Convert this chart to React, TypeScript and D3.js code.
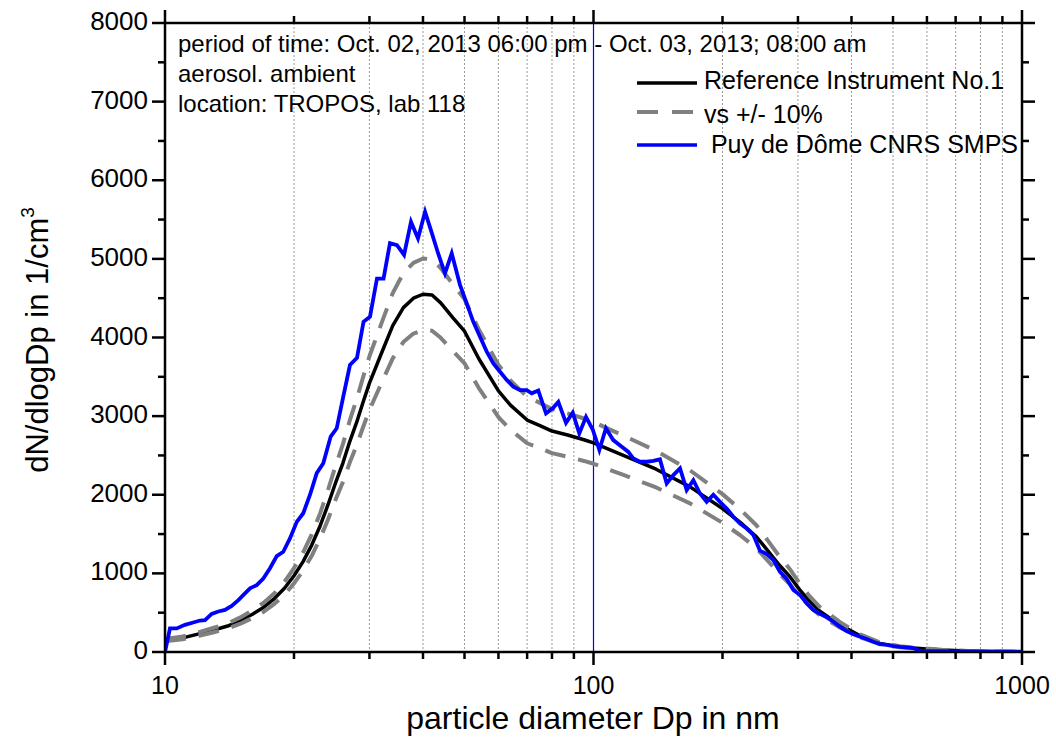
import React from "react";
import * as d3 from "d3";

// Reference instrument (black) – diameters in nm, dN/dlogDp in 1/cm3
const refD = [10, 11, 12, 13, 14, 15, 16, 17, 18, 19, 20, 21, 22, 23, 24, 25, 26, 27, 28, 29, 30, 32, 34, 36, 38, 40, 42, 44, 47, 50, 54, 60, 64, 70, 75, 80, 87, 95, 100, 117, 140, 168, 200, 220, 240, 255, 272, 287, 303, 320, 338, 376, 419, 466, 519, 578, 650, 750, 850, 1000];
const refN = [150, 180, 230, 280, 330, 400, 480, 570, 680, 810, 970, 1150, 1360, 1600, 1870, 2150, 2400, 2680, 2920, 3180, 3420, 3800, 4150, 4380, 4500, 4550, 4540, 4440, 4250, 4080, 3730, 3320, 3140, 2950, 2880, 2810, 2760, 2700, 2660, 2505, 2325, 2100, 1825, 1650, 1465, 1290, 1100, 960, 790, 640, 515, 345, 205, 110, 65, 45, 25, 12, 5, 2];
// +10 % band (grey dashed)
const upperN = [165, 198, 253, 308, 363, 440, 528, 627, 748, 891, 1067, 1265, 1496, 1760, 2057, 2365, 2640, 2948, 3212, 3498, 3762, 4180, 4565, 4818, 4950, 5005, 4994, 4884, 4675, 4488, 4103, 3652, 3454, 3245, 3168, 3091, 3036, 2970, 2926, 2756, 2558, 2310, 2008, 1815, 1612, 1419, 1210, 1056, 869, 704, 567, 380, 226, 121, 72, 50, 28, 13, 6, 2];
// -10 % band (grey dashed)
const lowerN = [135, 162, 207, 252, 297, 360, 432, 513, 612, 729, 873, 1035, 1224, 1440, 1683, 1935, 2160, 2412, 2628, 2862, 3078, 3420, 3735, 3942, 4050, 4095, 4086, 3996, 3825, 3672, 3357, 2988, 2826, 2655, 2592, 2529, 2484, 2430, 2394, 2255, 2093, 1890, 1643, 1485, 1319, 1161, 990, 864, 711, 576, 464, 311, 185, 99, 59, 41, 23, 11, 5, 2];

// Puy de Dôme CNRS SMPS (blue)
const smpsD = [10.0, 10.27, 10.65, 11.13, 11.64, 12.07, 12.40, 12.85, 13.32, 13.80, 14.31, 14.83, 15.37, 15.79, 16.37, 16.96, 17.58, 18.23, 18.88, 19.57, 20.30, 21.02, 21.80, 22.60, 23.41, 24.36, 25.16, 26.07, 27.02, 28.06, 29.06, 30.09, 31.24, 32.36, 33.50, 34.78, 36.13, 37.51, 38.94, 40.45, 41.88, 43.36, 45.02, 46.68, 48.80, 50.59, 52.42, 54.34, 56.34, 58.38, 60.51, 62.73, 64.99, 67.38, 69.84, 71.75, 74.34, 77.47, 80.32, 82.78, 86.27, 89.43, 92.66, 96.05, 99.57, 103.2, 106.9, 111.2, 116.4, 120.6, 123.9, 128.4, 133.1, 137.9, 142.9, 148.2, 153.6, 159.2, 165.0, 171.0, 177.2, 183.7, 190.4, 197.3, 204.6, 212.0, 219.8, 227.8, 236.0, 244.6, 253.7, 262.8, 272.4, 282.4, 292.7, 303.4, 314.5, 325.8, 337.8, 350.2, 362.8, 376.1, 389.9, 404.0, 418.8, 434.1, 449.8, 466.3, 483.4, 500.9, 519.2, 538.2, 557.7, 578.1, 650, 750, 850, 1000];
const smpsN = [0, 300, 300, 345, 375, 400, 405, 485, 515, 535, 585, 660, 745, 810, 850, 935, 1065, 1220, 1275, 1445, 1655, 1765, 2000, 2275, 2400, 2740, 2845, 3250, 3650, 3740, 4200, 4265, 4750, 4750, 5200, 5175, 5050, 5470, 5260, 5600, 5340, 5075, 4815, 5070, 4670, 4435, 4200, 4010, 3820, 3670, 3565, 3460, 3375, 3330, 3330, 3290, 3325, 3035, 3100, 3180, 2915, 3045, 2780, 2990, 2830, 2570, 2845, 2695, 2610, 2545, 2460, 2420, 2420, 2430, 2450, 2145, 2250, 2335, 2060, 2185, 2015, 1910, 2000, 1910, 1825, 1720, 1635, 1570, 1490, 1290, 1245, 1170, 1020, 930, 790, 725, 620, 535, 485, 440, 385, 320, 265, 225, 195, 165, 130, 100, 90, 75, 65, 60, 50, 15, 10, 8, 5, 3];

const yMajorTicks = [0, 1000, 2000, 3000, 4000, 5000, 6000, 7000, 8000];
const yMinorTicks = [500, 1500, 2500, 3500, 4500, 5500, 6500, 7500];
const xMajorTicks = [10, 100, 1000];
const xMinorTicks = [20, 30, 40, 50, 60, 70, 80, 90, 200, 300, 400, 500, 600, 700, 800, 900];

const annotationLines = [
  "period of time: Oct. 02, 2013 06:00 pm - Oct. 03, 2013; 08:00 am",
  "aerosol. ambient",
  "location: TROPOS, lab 118",
];
const legendLabels = ["Reference Instrument No.1", "vs +/- 10%", " Puy de Dôme CNRS SMPS"];

const W = 1056;
const H = 753;
const FONT = "'Liberation Sans', Arial, Helvetica, sans-serif";

export default function App() {
  const L = 165, R = 1022, T = 23, B = 652;
  const x = d3.scaleLog().domain([10, 1000]).range([L, R]);
  const y = d3.scaleLinear().domain([0, 8000]).range([B, T]);
  const mk = (ds: number[], ns: number[]) => {
    const n = Math.min(ds.length, ns.length);
    const pts: [number, number][] = [];
    for (let i = 0; i < n; i++) pts.push([ds[i], ns[i]]);
    return d3.line<[number, number]>().x((d) => x(d[0])).y((d) => y(d[1]))(pts) || "";
  };
  const refPath = mk(refD, refN);
  const upPath = mk(refD, upperN);
  const loPath = mk(refD, lowerN);
  const smpsPath = mk(smpsD, smpsN);

  const legendRows = [
    { lineY: 83, textY: 89, stroke: "#000", dash: undefined as string | undefined, w: 3.5 },
    { lineY: 112, textY: 123, stroke: "#808080", dash: "21,14", w: 4 },
    { lineY: 145, textY: 153, stroke: "#0000ff", dash: undefined, w: 3.5 },
  ];

  return (
    <svg
      width={W}
      height={H}
      viewBox={`0 0 ${W} ${H}`}
      style={{ position: "absolute", left: 0, top: 0, background: "#fff" }}
      fontFamily={FONT}
    >
      <rect x={0} y={0} width={W} height={H} fill="#fff" />
      <defs>
        <clipPath id="plotClip">
          <rect x={L} y={T} width={R - L} height={B - T} />
        </clipPath>
      </defs>

      {/* dotted grid */}
      {xMinorTicks.map((t) => (
        <line key={"g" + t} x1={x(t)} x2={x(t)} y1={T} y2={B} stroke="#9a9a9a" strokeWidth={1} strokeDasharray="2,2" />
      ))}
      {/* blue vertical line at 100 nm */}
      <line x1={x(100)} x2={x(100)} y1={T} y2={B} stroke="#0000ff" strokeWidth={1.2} />

      {/* annotation */}
      {annotationLines.map((s, i) => (
        <text key={"a" + i} x={178} y={52 + i * 30} fontSize={24} fill="#000">
          {s}
        </text>
      ))}

      {/* legend */}
      {legendRows.map((r, i) => (
        <g key={"l" + i}>
          <line x1={637} x2={697} y1={r.lineY} y2={r.lineY} stroke={r.stroke} strokeWidth={r.w} strokeDasharray={r.dash} />
          <text x={704} y={r.textY} fontSize={25} fill="#000" style={{ whiteSpace: "pre" }}>
            {legendLabels[i]}
          </text>
        </g>
      ))}

      {/* data */}
      <g clipPath="url(#plotClip)" fill="none" strokeLinejoin="round">
        <path d={refPath} stroke="#000" strokeWidth={3.5} />
        <path d={upPath} stroke="#808080" strokeWidth={4} strokeDasharray="21,13" />
        <path d={loPath} stroke="#808080" strokeWidth={4} strokeDasharray="21,13" />
        <path d={smpsPath} stroke="#0000ff" strokeWidth={3.8} strokeLinejoin="miter" />
      </g>

      {/* frame */}
      <rect x={L} y={T} width={R - L} height={B - T} fill="none" stroke="#000" strokeWidth={2.5} />

      {/* y ticks */}
      {yMajorTicks.map((t) => (
        <g key={"ym" + t}>
          <line x1={L - 13} x2={L} y1={y(t)} y2={y(t)} stroke="#000" strokeWidth={2.5} />
          <line x1={R} x2={R + 13} y1={y(t)} y2={y(t)} stroke="#000" strokeWidth={2.5} />
          <text x={148} y={y(t) - 2} fontSize={26} textAnchor="end" dominantBaseline="central" fill="#000">
            {t}
          </text>
        </g>
      ))}
      {yMinorTicks.map((t) => (
        <g key={"yn" + t}>
          <line x1={L - 7} x2={L} y1={y(t)} y2={y(t)} stroke="#000" strokeWidth={2.5} />
          <line x1={R} x2={R + 7} y1={y(t)} y2={y(t)} stroke="#000" strokeWidth={2.5} />
        </g>
      ))}
      {/* x ticks */}
      {xMajorTicks.map((t) => (
        <g key={"xm" + t}>
          <line x1={x(t)} x2={x(t)} y1={B} y2={B + 13} stroke="#000" strokeWidth={2.5} />
          <line x1={x(t)} x2={x(t)} y1={T - 13} y2={T} stroke="#000" strokeWidth={2.5} />
          <text x={x(t)} y={694} fontSize={25} textAnchor="middle" fill="#000">
            {t}
          </text>
        </g>
      ))}
      {xMinorTicks.map((t) => (
        <g key={"xn" + t}>
          <line x1={x(t)} x2={x(t)} y1={B} y2={B + 7} stroke="#000" strokeWidth={2.5} />
          <line x1={x(t)} x2={x(t)} y1={T - 7} y2={T} stroke="#000" strokeWidth={2.5} />
        </g>
      ))}

      {/* axis titles */}
      <text x={593} y={729} fontSize={32} textAnchor="middle" fill="#000">
        particle diameter Dp in nm
      </text>
      <text transform="translate(48,340) rotate(-90)" fontSize={31} textAnchor="middle" fill="#000">
        dN/dlogDp in 1/cm
        <tspan fontSize={19} dy={-14}>3</tspan>
      </text>
    </svg>
  );
}
